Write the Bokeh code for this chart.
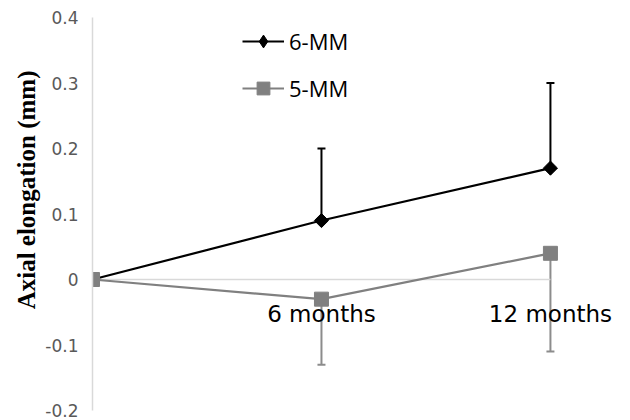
import numpy as np
from bokeh.plotting import figure
from bokeh.models import (ColumnDataSource, Range1d, Whisker, TeeHead, Legend,
                          LegendItem, FixedTicker, Title)
from bokeh.core.properties import value
from bokeh.embed import file_html
from bokeh.resources import INLINE

# ---- data ----
x_labels = ["", "6 months", "12 months"]
mm6_mean = [0.0, 0.09, 0.17]
mm6_err = [0.0, 0.11, 0.13]
mm5_mean = [0.0, -0.03, 0.04]
mm5_err = [0.0, 0.10, 0.15]
y_ticks = [-0.2, -0.1, 0.0, 0.1, 0.2, 0.3, 0.4]
y_tick_labels = ["-0.2", "-0.1", "0", "0.1", "0.2", "0.3", "0.4"]
y_title = "Axial elongation (mm)"

xs = list(range(len(x_labels)))

p = figure(width=630, height=420, output_backend="svg", toolbar_location=None,
           x_range=Range1d(0, 2.306), y_range=Range1d(-0.2, 0.4),
           min_border_left=92, min_border_right=10, min_border_top=17,
           min_border_bottom=10)
p.outline_line_color = None
p.xgrid.visible = False
p.ygrid.visible = False
p.xaxis.visible = False

yax = p.yaxis[0]
yax.ticker = FixedTicker(ticks=y_ticks)
yax.major_label_overrides = {t: l for t, l in zip(y_ticks, y_tick_labels)}
yax.axis_line_color = "#d9d9d9"
yax.axis_line_width = 1.5
yax.major_tick_line_color = None
yax.minor_tick_line_color = None
yax.major_label_text_color = "#595959"
yax.major_label_text_font = "DejaVu Sans"
yax.major_label_text_font_size = "17px"
yax.major_label_standoff = 8

# y-axis title as a side title (allows offset from the top)
p.add_layout(Title(text=y_title, align="right", offset=53, standoff=6,
                   text_font="Liberation Serif", text_font_style="bold",
                   text_font_size="25px", text_color="black"), "left")

# zero line across the categories
p.segment(x0=[xs[0]], x1=[xs[-1]], y0=[0], y1=[0], line_color="#d9d9d9", line_width=1.5)

# error bars
mm6_src = ColumnDataSource(dict(
    x=[x for x, e in zip(xs, mm6_err) if e > 0],
    lo=[m for m, e in zip(mm6_mean, mm6_err) if e > 0],
    hi=[m + e for m, e in zip(mm6_mean, mm6_err) if e > 0]))
mm5_src = ColumnDataSource(dict(
    x=[x for x, e in zip(xs, mm5_err) if e > 0],
    lo=[m - e for m, e in zip(mm5_mean, mm5_err) if e > 0],
    hi=[m for m, e in zip(mm5_mean, mm5_err) if e > 0]))

p.add_layout(Whisker(source=mm6_src, base="x", lower="lo", upper="hi",
                     line_color="black", line_width=2, lower_head=None,
                     upper_head=TeeHead(size=8, line_color="black", line_width=2)))
p.add_layout(Whisker(source=mm5_src, base="x", lower="lo", upper="hi",
                     line_color="#8c8c8c", line_width=2, upper_head=None,
                     lower_head=TeeHead(size=8, line_color="#8c8c8c", line_width=2)))

# series
l6 = p.line(xs, mm6_mean, line_color="black", line_width=2.2)
d6 = p.scatter(xs, mm6_mean, marker="diamond", size=13,
               fill_color="black", line_color="black")
m6 = p.scatter(xs, mm6_mean, marker="square", angle=np.pi / 4, size=10,
               fill_color="black", line_color="black")
l5 = p.line(xs, mm5_mean, line_color="#808080", line_width=2.2)
m5 = p.scatter(xs, mm5_mean, marker="square", size=14,
               fill_color="#808080", line_color="#808080")

# category labels near zero line
p.text(x=xs[1:], y=[0] * (len(xs) - 1), text=x_labels[1:],
       text_font=value("DejaVu Sans"), text_font_size="23px",
       text_align="center", text_baseline="top", y_offset=21,
       text_color="black")

legend = Legend(items=[LegendItem(label="6-MM", renderers=[l6, d6]),
                       LegendItem(label="5-MM", renderers=[l5, m5])],
                location=(150, 306), orientation="vertical",
                glyph_width=42, glyph_height=32, label_height=32,
                label_standoff=5, spacing=15, padding=0, margin=0,
                border_line_color=None, background_fill_alpha=0,
                label_text_font="Open Sans", label_text_font_size="22px",
                label_text_color="black")
p.add_layout(legend)

open("out.html", "w").write(file_html(p, INLINE))
